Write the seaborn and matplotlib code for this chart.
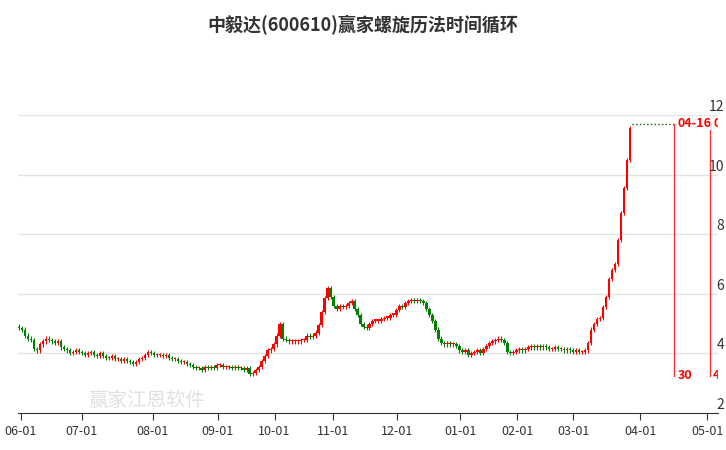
import matplotlib
matplotlib.use("Agg")
import matplotlib.pyplot as plt
import seaborn as sns
import numpy as np

sns.set_style("white")
plt.rcParams['font.family'] = ['Noto Sans CJK SC', 'DejaVu Sans']

closes = [4.85,4.8,4.6,4.5,4.45,4.15,4.1,4.3,4.4,4.5,
          4.45,4.4,4.35,4.4,4.2,4.15,4.1,4.0,4.05,4.1,
          4.05,4.0,3.95,4.0,4.05,3.95,3.9,4.0,3.9,3.85,
          3.85,3.9,3.8,3.8,3.75,3.8,3.75,3.7,3.65,3.7,
          3.8,3.85,3.95,4.05,4.0,3.95,3.95,3.95,3.9,3.95,
          3.85,3.8,3.8,3.75,3.7,3.7,3.65,3.6,3.55,3.5,
          3.5,3.45,3.55,3.5,3.55,3.5,3.6,3.6,3.55,3.55,
          3.55,3.5,3.55,3.5,3.5,3.45,3.5,3.3,3.35,3.45,
          3.55,3.75,3.9,4.1,4.15,4.3,4.6,5.0,4.5,4.45,
          4.4,4.4,4.4,4.4,4.45,4.45,4.6,4.55,4.6,4.7,
          4.95,5.4,5.85,6.2,5.9,5.6,5.5,5.6,5.55,5.6,
          5.7,5.75,5.5,5.3,5.0,4.9,4.85,5.0,5.1,5.1,
          5.1,5.15,5.2,5.2,5.3,5.3,5.45,5.6,5.55,5.7,
          5.75,5.8,5.75,5.8,5.75,5.7,5.5,5.3,5.1,4.8,
          4.5,4.35,4.3,4.35,4.3,4.3,4.25,4.1,4.05,4.1,
          3.95,4.0,4.05,4.1,4.0,4.15,4.25,4.35,4.4,4.45,
          4.5,4.45,4.35,4.05,4.0,4.05,4.1,4.15,4.1,4.15,
          4.2,4.25,4.2,4.25,4.2,4.25,4.2,4.15,4.15,4.2,
          4.15,4.15,4.1,4.15,4.1,4.05,4.1,4.05,4.05,4.1,
          4.35,4.8,5.0,5.15,5.2,5.55,5.9,6.5,6.8,7.0,
          7.8,8.7,9.55,10.5,11.55]
first_open = 4.9
tick_pos = [0.7, 21, 44.7, 66.3, 85.3, 104.7, 126.3, 147.3, 166.3, 185, 207.3, 229.7]
tick_labels = ["06-01","07-01","08-01","09-01","10-01","11-01","12-01","01-01","02-01","03-01","04-01","05-01"]
cycle_pos = [218.7, 230.7]
cycle_days = ["30", "42"]
cycle_dates = ["04-16", "05"]
top_price = 11.7
yticks = [2, 4, 6, 8, 10, 12]

c = np.array(closes)
o = np.concatenate([[first_open], c[:-1]])
x = np.arange(len(c))
hi = np.maximum(o, c) + 0.07
lo = np.minimum(o, c) - 0.07
col = np.where(c >= o, "#ff0000", "#008000")

fig = plt.figure(figsize=(7.26, 4.5), dpi=100)
ax = fig.add_axes([18/726, 1-413/450, 700/726, (413-115)/450])
ax.vlines(x, lo, hi, colors=col, linewidth=0.8)
ax.bar(x, np.maximum(np.abs(c-o), 0.04), bottom=np.minimum(o, c), width=0.8, color=col, linewidth=0)
ax.set_xlim(-0.3, 233.3)
ax.set_ylim(2, 12)
for v in yticks[1:]:
    ax.axhline(v, color="#e3e3e3", linewidth=1, zorder=0)
for v in yticks:
    fig.text(724/726, 1-(413-(v-2)*29.8-8)/450, str(v), ha="right", va="center", fontsize=10, color="#333333")

ax.plot([len(c)-0.5, 233.3], [top_price, top_price], color="#006400", linestyle=":", linewidth=1)
for p, d, dt in zip(cycle_pos, cycle_days, cycle_dates):
    ax.plot([p, p], [3.25, top_price], color="#ff3333", linewidth=1)
    ax.text(p+1, 3.25, d, color="#ff0000", fontsize=9, fontweight="bold", va="center", ha="left", clip_on=True)
    ax.text(p+1, top_price, dt, color="#ff0000", fontsize=9, fontweight="bold", va="center", ha="left", clip_on=True,
            bbox=dict(facecolor="white", edgecolor="none", pad=0))

ax.set_xticks(tick_pos)
ax.set_xticklabels(tick_labels, fontsize=9, color="#333333")
ax.set_yticks([])
ax.tick_params(axis="x", direction="out", length=5, color="#333333", bottom=True)
for s in ["top", "right", "left"]:
    ax.spines[s].set_visible(False)
ax.spines["bottom"].set_color("#333333")

fig.text(0.5, 1-25/450, "中毅达(600610)赢家螺旋历法时间循环", ha="center", va="center", fontsize=13, fontweight="bold", color="#333333")
fig.text(88/726, 1-400/450, "赢家江恩软件", fontsize=14, color="#cccccc", alpha=0.6, va="center")
fig.savefig("out.png", dpi=100)
